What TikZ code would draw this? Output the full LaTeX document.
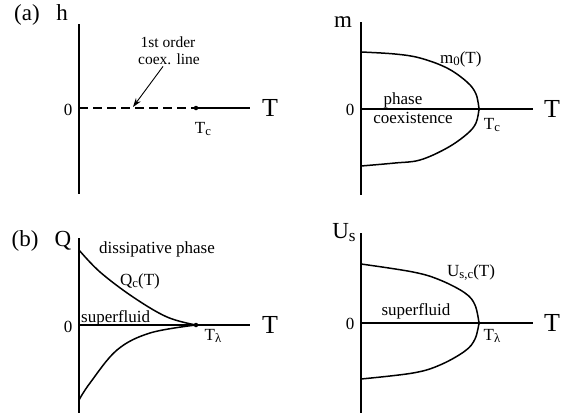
\documentclass[tikz,border=0pt]{standalone}
\usepackage{fontspec}
\setmainfont{Liberation Serif}
\usepackage{graphicx}
\usetikzlibrary{arrows.meta}
\newcommand\mysub[1]{\raisebox{-0.35ex}{\scalebox{0.75}{#1}}}
\tikzset{
  axis/.style={line width=1.9pt},
  curve/.style={line width=1.5pt},
  lbl/.style={inner sep=0pt, font=\fontsize{17}{20}\selectfont, anchor=base},
  axlbl/.style={inner sep=0pt, font=\fontsize{23}{26}\selectfont, anchor=base},
  bigT/.style={inner sep=0pt, font=\fontsize{26}{30}\selectfont, anchor=base},
  small/.style={inner sep=0pt, font=\fontsize{15.5}{17}\selectfont, anchor=base},
  dotc/.style={circle, fill, inner sep=0pt, minimum size=4.5pt}
}
\begin{document}
\begin{tikzpicture}[x=1pt,y=-1pt]
\useasboundingbox (0,0) rectangle (563,413);
% ---------- (a) left ----------
\node[axlbl] (la) at (27,20) {(a)};
\node[axlbl] (h) at (62,20) {h};
\coordinate (ha) at (79,24);
\coordinate (hb) at (79,194);
\draw[axis] (ha) -- (hb);
\coordinate (o1) at (79,108);
\node[dotc] (tc1) at (196,108) {};
\coordinate (e1) at (250,108);
\draw[axis, dash pattern=on 9pt off 5pt] (o1) -- (tc1.center);
\draw[axis] (tc1.center) -- (e1);
\node[lbl] (z1) at (68,115) {0};
\node[bigT] (T1) at (270,116) {T};
\node[lbl] (tcl1) at (203,133) {T\mysub{c}};
\node[small] (fo) at (168,47) {1st order};
\node[small] (cl) at (169,64) {coex. line};
\coordinate (ar) at (133,107);
\draw[line width=0.9pt, -{Stealth[length=9pt,width=6pt]}] (cl.south) ++(-6,2) -- (ar);
% ---------- (a) right ----------
\node[axlbl] (m) at (343,27) {m};
\draw[axis] (361,22) -- (361,195);
\draw[axis] (361,109) -- (533,109);
\node[lbl] (z2) at (350,115) {0};
\node[bigT] (T2) at (552,117) {T};
\draw[curve] plot[smooth, tension=0.6] coordinates {(361,52) (395,54) (420,58) (447,68) (467,82) (476,94) (479,109)};
\draw[curve] plot[smooth, tension=0.6] coordinates {(361,166) (395,163) (420,160) (447,148) (467,134) (476,123) (479,109)};
\node[dotc, minimum size=3.5pt] (tc2) at (479,109) {};
\node[lbl, anchor=base west] (m0) at (440,63) {m\mysub{0}(T)};
\node[lbl] (ph) at (403,104) {phase};
\node[lbl] (co) at (413,123) {coexistence};
\node[lbl] (tcl2) at (492,129) {T\mysub{c}};
% ---------- (b) left ----------
\node[axlbl] (lb) at (25,246) {(b)};
\node[axlbl] (Q) at (63,246) {Q};
\draw[axis] (79,238) -- (79,413);
\draw[axis] (79,325) -- (250,325);
\node[lbl] (z3) at (68,332) {0};
\node[bigT] (T3) at (270,333) {T};
\draw[curve] plot[smooth, tension=0.6] coordinates {(79,250) (100,272) (133,297) (167,317) (196,325)};
\draw[curve] plot[smooth, tension=0.6] coordinates {(79,400) (90,383) (117,350) (150,333) (196,325)};
\node[dotc] (tl1) at (196,325) {};
\node[lbl] (dp) at (157,253) {dissipative phase};
\node[lbl, anchor=base west] (qc) at (120,285) {Q\mysub{c}(T)};
\node[lbl, anchor=base west] (sf1) at (81,322) {superfluid};
\node[lbl] (tll1) at (213,340) {T\mysub{λ}};
% ---------- (b) right ----------
\node[axlbl] (us) at (344,238) {U\mysub{s}};
\draw[axis] (361,233) -- (361,413);
\draw[axis] (361,323) -- (533,323);
\node[lbl] (z4) at (350,329) {0};
\node[bigT] (T4) at (552,331) {T};
\draw[curve] plot[smooth, tension=0.6] coordinates {(361,264) (413,272) (440,280) (465,293) (475,305) (479,323)};
\draw[curve] plot[smooth, tension=0.6] coordinates {(361,379) (413,373) (440,365) (465,351) (475,339) (479,323)};
\node[dotc, minimum size=3.5pt] (tl2) at (479,323) {};
\node[lbl, anchor=base west] (usc) at (447,276) {U\mysub{s,c}(T)};
\node[lbl] (sf2) at (416,315) {superfluid};
\node[lbl] (tll2) at (492,340) {T\mysub{λ}};
\end{tikzpicture}
\end{document}
